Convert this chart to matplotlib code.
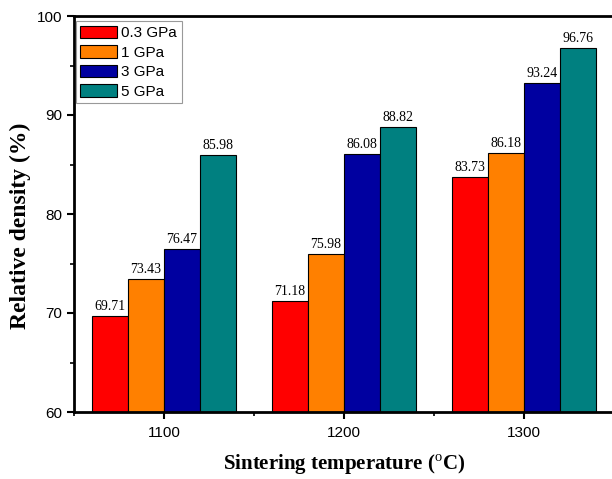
import matplotlib
matplotlib.use("Agg")
import matplotlib.pyplot as plt
from matplotlib.ticker import MultipleLocator
import numpy as np

plt.rcParams['font.family'] = ['Liberation Sans', 'DejaVu Sans']
plt.rcParams['mathtext.fontset'] = 'custom'
plt.rcParams['mathtext.rm'] = 'Liberation Serif'
plt.rcParams['mathtext.bf'] = 'Liberation Serif:bold'

temperatures = [1100, 1200, 1300]
series_labels = ['0.3 GPa', '1 GPa', '3 GPa', '5 GPa']
values_03 = [69.71, 71.18, 83.73]
values_1 = [73.43, 75.98, 86.18]
values_3 = [76.47, 86.08, 93.24]
values_5 = [85.98, 88.82, 96.76]
series_values = [values_03, values_1, values_3, values_5]
colors = ['#FF0000', '#FF8000', '#0000A0', '#008080']

fig = plt.figure(figsize=(6.12, 4.79), dpi=100)
ax = fig.add_axes([74/612, 67/479, 540/612, 396/479])

bw = 20
offsets = [-40, -20, 0, 20]
x = np.array(temperatures, dtype=float)
for vals, lab, col, off in zip(series_values, series_labels, colors, offsets):
    ax.bar(x + off, np.array(vals) - 60, bottom=60, width=bw, align='edge',
           color=col, edgecolor='black', linewidth=0.8, label=lab)
    for xi, v in zip(x + off, vals):
        ax.text(xi + bw/2, v + 0.3, f'{v:.2f}', ha='center', va='bottom',
                fontsize=10, family='Liberation Serif')

ax.set_xlim(1050, 1350)
ax.set_ylim(60, 100)
ax.set_xticks(temperatures)
ax.xaxis.set_minor_locator(MultipleLocator(50))
ax.yaxis.set_major_locator(MultipleLocator(10))
ax.yaxis.set_minor_locator(MultipleLocator(5))
ax.tick_params(which='major', direction='out', length=5, width=1.5, labelsize=11)
ax.tick_params(which='minor', direction='out', length=3, width=1.2)
ax.tick_params(axis='x', which='both', pad=5)
for s in ['left', 'bottom', 'top', 'right']:
    ax.spines[s].set_linewidth(2)

ax.set_xlabel(r'Sintering temperature ($^{\rm o}$C)', fontsize=15,
              fontweight='bold', family='Liberation Serif', labelpad=9)
ax.set_ylabel('Relative density (%)', fontsize=17, fontweight='bold',
              family='Liberation Serif')
ax.yaxis.set_label_coords(-0.08, 0.47)

leg = ax.legend(loc='upper left', bbox_to_anchor=(0.0, 0.99), fontsize=11,
                frameon=True, fancybox=False, edgecolor='#808080',
                borderaxespad=0.1, handlelength=2.4, handleheight=0.85,
                handletextpad=0.3, labelspacing=0.33, borderpad=0.3)
leg.get_frame().set_linewidth(0.8)

fig.savefig('out.png', dpi=100)
